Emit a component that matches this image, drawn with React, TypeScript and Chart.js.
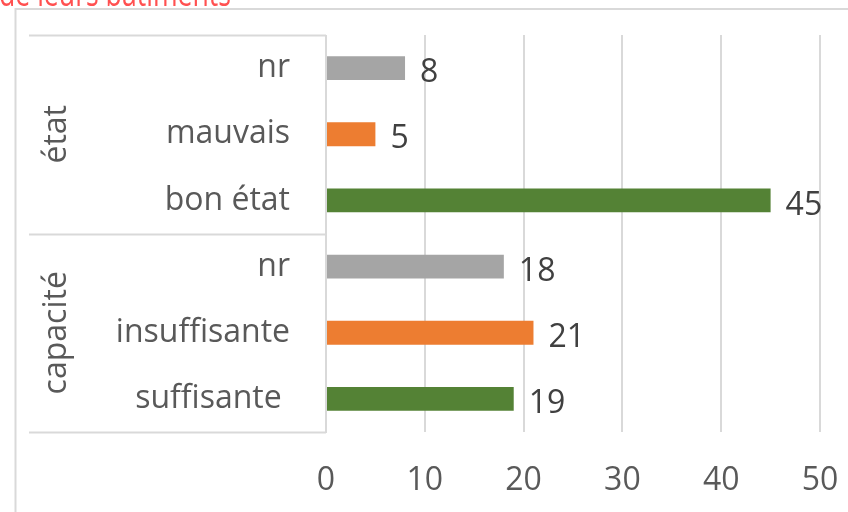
import React, { useEffect, useRef } from "react";
import { Chart, registerables } from "chart.js";

Chart.register(...registerables);

const categories = ["nr", "mauvais", "bon état", "nr", "insuffisante", "suffisante "];
const values = [8, 5, 45, 18, 21, 19];
const barColors = ["#A5A5A5", "#ED7D31", "#548235", "#A5A5A5", "#ED7D31", "#548235"];
const groups = [
  { label: "état", from: 0, to: 2 },
  { label: "capacité", from: 3, to: 5 },
];
const xTicks = [0, 10, 20, 30, 40, 50];
const titleText = "de leurs bâtiments";

const FONT = "'Open Sans', 'Noto Sans', sans-serif";
const FS = 32;
const GRID = "#D9D9D9";

const decorPlugin = {
  id: "decor",
  beforeDraw(chart: any) {
    const ctx = chart.ctx;
    ctx.save();
    ctx.fillStyle = "#ffffff";
    ctx.fillRect(0, 0, chart.width, chart.height);
    // outer frame
    ctx.strokeStyle = GRID;
    ctx.lineWidth = 2;
    ctx.beginPath();
    ctx.moveTo(15.5, chart.height);
    ctx.lineTo(15.5, 9);
    ctx.lineTo(chart.width, 9);
    ctx.stroke();
    // clipped title
    ctx.fillStyle = "#FF5050";
    ctx.font = `36px ${FONT}`;
    ctx.textAlign = "left";
    ctx.textBaseline = "alphabetic";
    const w = ctx.measureText(titleText).width;
    ctx.translate(-1, 6);
    ctx.scale(232 / w, 1);
    ctx.fillText(titleText, 0, 0);
    ctx.restore();
  },
  afterDraw(chart: any) {
    const ctx = chart.ctx;
    const y = chart.scales.y;
    const area = chart.chartArea;
    ctx.save();
    ctx.strokeStyle = GRID;
    ctx.lineWidth = 2;
    const left = 29;
    const boundaries = [area.top, y.getPixelForValue(2.5), area.bottom];
    ctx.beginPath();
    boundaries.forEach((b: number) => {
      const yy = Math.round(b) + 0.5;
      ctx.moveTo(left, yy);
      ctx.lineTo(area.left, yy);
    });
    ctx.moveTo(area.left, area.top);
    ctx.lineTo(area.left, area.bottom + 1);
    ctx.stroke();
    // group labels
    ctx.fillStyle = "#595959";
    ctx.font = `${FS}px ${FONT}`;
    ctx.textAlign = "center";
    ctx.textBaseline = "middle";
    groups.forEach((g) => {
      const top = y.getPixelForValue(g.from - 0.5);
      const bot = y.getPixelForValue(g.to + 0.5);
      const cy = (top + bot) / 2;
      ctx.save();
      ctx.translate(57, cy);
      ctx.rotate(-Math.PI / 2);
      ctx.fillText(g.label, 0, 0);
      ctx.restore();
    });
    // data labels
    ctx.fillStyle = "#404040";
    ctx.textAlign = "left";
    const meta = chart.getDatasetMeta(0);
    meta.data.forEach((bar: any, i: number) => {
      ctx.fillText(String(values[i]), bar.x + 15, bar.y + 5);
    });
    ctx.restore();
  },
};

const zeroPad = (s: any) => {
  s.paddingTop = 0;
  s.paddingBottom = 0;
  s.paddingLeft = 0;
  s.paddingRight = 0;
};

export default function App() {
  const ref = useRef<HTMLCanvasElement>(null);
  useEffect(() => {
    if (!ref.current) return;
    const chart = new Chart(ref.current, {
      type: "bar",
      data: {
        labels: categories,
        datasets: [
          {
            data: values,
            backgroundColor: barColors,
            borderWidth: 0,
            categoryPercentage: 1,
            barPercentage: 0.36,
          },
        ],
      },
      options: {
        indexAxis: "y",
        animation: false,
        responsive: false,
        maintainAspectRatio: false,
        layout: { padding: { top: 35, left: 0, right: 28, bottom: 0 } },
        plugins: {
          legend: { display: false },
          tooltip: { enabled: false },
          title: { display: false },
        },
        scales: {
          x: {
            min: 0,
            max: 50,
            afterFit: (s: any) => {
              s.height = 80;
              zeroPad(s);
            },
            afterBuildTicks: (s: any) => {
              s.ticks = xTicks.map((v) => ({ value: v }));
            },
            grid: {
              color: (c: any) => (c.tick && c.tick.value === 0 ? "rgba(0,0,0,0)" : GRID),
              lineWidth: 2,
              drawTicks: false,
            },
            border: { display: false },
            ticks: {
              padding: 30,
              color: "#595959",
              font: { family: FONT, size: FS },
            },
          },
          y: {
            afterFit: (s: any) => {
              s.width = 326;
              zeroPad(s);
            },
            grid: { display: false },
            border: { display: false },
            ticks: {
              padding: 28,
              color: "#595959",
              font: { family: FONT, size: FS },
              autoSkip: false,
            },
          },
        },
      },
      plugins: [decorPlugin],
    });
    return () => chart.destroy();
  }, []);
  return (
    <div style={{ position: "absolute", left: 0, top: 0, width: 848, height: 512 }}>
      <canvas ref={ref} width={848} height={512} />
    </div>
  );
}
